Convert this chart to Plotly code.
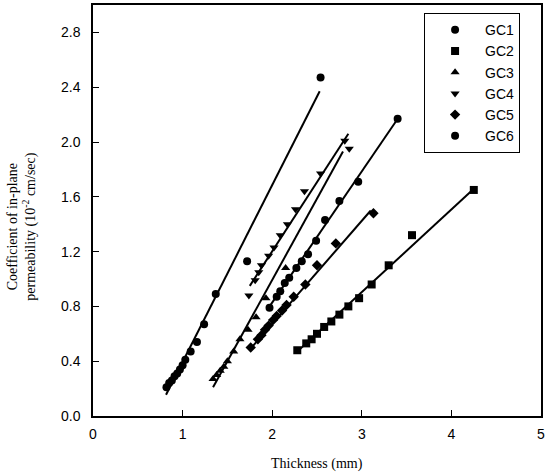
import plotly.graph_objects as go

names = ["GC1", "GC2", "GC3", "GC4", "GC5", "GC6"]
symbols = ["circle", "square", "triangle-up", "triangle-down", "diamond", "circle"]

gc1_x = [1.97, 2.05, 2.09, 2.14, 2.19, 2.27, 2.33, 2.40, 2.49, 2.59, 2.75, 2.96, 3.40]
gc1_y = [0.79, 0.87, 0.91, 0.97, 1.01, 1.08, 1.13, 1.18, 1.28, 1.43, 1.57, 1.71, 2.17]
gc2_x = [2.28, 2.38, 2.44, 2.50, 2.58, 2.66, 2.75, 2.85, 2.97, 3.11, 3.30, 3.56, 4.25]
gc2_y = [0.48, 0.53, 0.56, 0.60, 0.65, 0.69, 0.74, 0.80, 0.86, 0.96, 1.10, 1.32, 1.65]
gc3_x = [1.34, 1.38, 1.42, 1.46, 1.50, 1.57, 1.64, 1.73, 1.82, 1.93, 2.15]
gc3_y = [0.27, 0.30, 0.33, 0.36, 0.40, 0.47, 0.56, 0.63, 0.72, 0.86, 1.08]
gc4_x = [1.74, 1.81, 1.85, 1.88, 1.96, 2.02, 2.09, 2.17, 2.26, 2.36, 2.54, 2.81, 2.86]
gc4_y = [0.88, 0.99, 1.05, 1.10, 1.17, 1.23, 1.32, 1.40, 1.51, 1.64, 1.77, 2.01, 1.95]
gc5_x = [1.76, 1.84, 1.88, 1.92, 1.96, 2.01, 2.05, 2.11, 2.16, 2.24, 2.37, 2.50, 2.71, 3.13]
gc5_y = [0.50, 0.56, 0.59, 0.63, 0.66, 0.70, 0.73, 0.77, 0.81, 0.87, 0.96, 1.10, 1.26, 1.48]
gc6_x = [0.82, 0.85, 0.88, 0.91, 0.94, 0.97, 1.00, 1.03, 1.09, 1.16, 1.24, 1.37, 1.72, 2.54]
gc6_y = [0.21, 0.24, 0.26, 0.29, 0.31, 0.34, 0.37, 0.41, 0.47, 0.54, 0.67, 0.89, 1.13, 2.47]

# fitted regression lines (start / end)
fit_x0 = [1.95, 2.28, 1.34, 1.75, 1.77, 0.815]
fit_y0 = [0.78, 0.47, 0.21, 0.95, 0.50, 0.155]
fit_x1 = [3.38, 4.22, 2.79, 2.85, 3.10, 2.53]
fit_y1 = [2.15, 1.64, 1.93, 2.06, 1.50, 2.37]

x_ticks = [0, 1, 2, 3, 4, 5]
y_ticks = [0.0, 0.4, 0.8, 1.2, 1.6, 2.0, 2.4, 2.8]

xs = [gc1_x, gc2_x, gc3_x, gc4_x, gc5_x, gc6_x]
ys = [gc1_y, gc2_y, gc3_y, gc4_y, gc5_y, gc6_y]

fig = go.Figure()
for i in range(6):
    fig.add_trace(go.Scatter(x=[fit_x0[i], fit_x1[i]], y=[fit_y0[i], fit_y1[i]],
                             mode="lines", line=dict(color="black", width=2),
                             showlegend=False, hoverinfo="skip"))
for i in range(6):
    fig.add_trace(go.Scatter(x=xs[i], y=ys[i], mode="markers", name=names[i],
                             marker=dict(symbol=symbols[i], size=8, color="black")))

tickfont = dict(family="Liberation Sans, Arial", size=14, color="black")
titlefont = dict(family="Liberation Serif, Times New Roman", size=14, color="black")

fig.update_layout(
    width=546, height=476,
    margin=dict(l=93, r=5, t=5, b=60),
    plot_bgcolor="white", paper_bgcolor="white",
    xaxis=dict(range=[0, 5], tickvals=x_ticks, ticktext=[str(v) for v in x_ticks],
               ticks="inside", ticklen=6, tickcolor="black", showline=True, linecolor="black",
               linewidth=1.5, mirror=True, showgrid=False, zeroline=False, automargin=False,
               tickfont=tickfont, ticklabelstandoff=4),
    yaxis=dict(range=[0, 3.0], tickvals=y_ticks, ticktext=[f"{v:.1f}" for v in y_ticks],
               ticks="inside", ticklen=6, tickcolor="black", showline=True, linecolor="black",
               linewidth=1.5, mirror=True, showgrid=False, zeroline=False, automargin=False,
               tickfont=tickfont, ticklabelstandoff=8),
    legend=dict(x=0.739, y=0.98, xanchor="left", yanchor="top",
                bordercolor="black", borderwidth=1, bgcolor="white",
                font=dict(family="Liberation Sans, Arial", size=14, color="black"),
                itemwidth=50, entrywidth=112, tracegroupgap=0),
    annotations=[
        dict(text="Thickness (mm)", xref="paper", yref="paper", x=0.5, y=-0.116,
             xanchor="center", yanchor="middle", showarrow=False, font=titlefont),
        dict(text="Coefficient of in-plane<br>permeability (10<sup>-2</sup> cm/sec)",
             xref="paper", yref="paper", x=-0.159, y=0.46, textangle=-90,
             xanchor="center", yanchor="middle", showarrow=False, font=titlefont),
    ],
)

fig.write_html("out.html", config={"displayModeBar": False},
               post_script="document.body.style.margin='0';")
